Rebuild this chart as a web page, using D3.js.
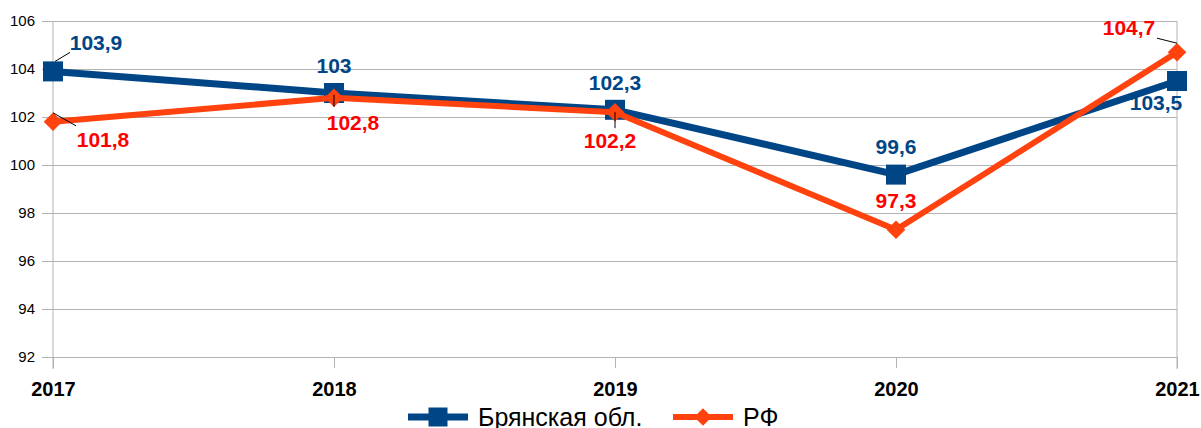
<!DOCTYPE html>
<html>
<head>
<meta charset="utf-8">
<script src="https://cdn.jsdelivr.net/npm/d3@7"></script>
<style>
  body { margin: 0; background: #fff; }
  svg { display: block; font-family: "Liberation Sans", Arial, sans-serif; }
</style>
</head>
<body>
<div id="chart"></div>
<script>
// Data
const years = ['2017', '2018', '2019', '2020', '2021'];
const bryansk = [103.9, 103, 102.3, 99.6, 103.5];
const rf = [101.8, 102.8, 102.2, 97.3, 104.7];
const yTicks = [92, 94, 96, 98, 100, 102, 104, 106];
const seriesNames = ['Брянская обл.', 'РФ'];

const width = 1201, height = 428;
const plotLeft = 53, plotRight = 1177, plotTop = 21, plotBottom = 357;

const svg = d3.select('#chart')
    .append('svg')
    .attr('width', width)
    .attr('height', height);

const x = d3.scalePoint().domain(years).range([plotLeft, plotRight]);
const y = d3.scaleLinear().domain([92, 106]).range([plotBottom, plotTop]);

const gridColor = '#b3b3b3';
const fmt = v => String(v).replace('.', ',');

// Horizontal gridlines
svg.append('g')
    .attr('transform', `translate(${plotLeft},0)`)
    .call(d3.axisLeft(y).tickValues(yTicks).tickSize(-(plotRight - plotLeft)).tickFormat(''))
    .call(g => g.select('.domain').remove())
    .call(g => g.selectAll('line').attr('stroke', gridColor));

// Y axis labels + ticks
svg.append('g')
    .attr('transform', `translate(${plotLeft},0)`)
    .call(d3.axisLeft(y).tickValues(yTicks).tickSize(11).tickPadding(7))
    .call(g => g.select('.domain').remove())
    .call(g => g.selectAll('line').attr('stroke', gridColor))
    .call(g => g.selectAll('text')
        .attr('fill', '#000')
        .style('font-size', '15px')
        .style('font-family', '"Liberation Sans", Arial, sans-serif'));

// X axis
svg.append('g')
    .attr('transform', `translate(0,${plotBottom})`)
    .call(d3.axisBottom(x).tickSize(11).tickPadding(14))
    .call(g => g.select('.domain').remove())
    .call(g => g.selectAll('line').attr('stroke', gridColor))
    .call(g => g.selectAll('text')
        .attr('fill', '#000')
        .style('font-size', '20px')
        .style('font-weight', 'bold')
        .style('font-family', '"Liberation Sans", Arial, sans-serif'));

// Left axis and right border
[plotLeft, plotRight].forEach(xx => {
    svg.append('line')
        .attr('x1', xx).attr('x2', xx)
        .attr('y1', plotTop).attr('y2', plotBottom + 12)
        .attr('stroke', gridColor);
});

const blue = '#004586', orange = '#ff420e', red = '#ff0000';

const line = d3.line()
    .x((d, i) => x(years[i]))
    .y(d => y(d));

const squareSym = d3.symbol().type(d3.symbolSquare).size(400);
const diamondSym = d3.symbol().type(d3.symbolDiamond2).size(200);

// Bryansk series
svg.append('path')
    .datum(bryansk)
    .attr('d', line)
    .attr('fill', 'none')
    .attr('stroke', blue)
    .attr('stroke-width', 7)
    .attr('stroke-linejoin', 'round');

svg.append('g').selectAll('path')
    .data(bryansk)
    .join('path')
    .attr('d', squareSym)
    .attr('transform', (d, i) => `translate(${x(years[i])},${y(d)})`)
    .attr('fill', blue);

// RF series
svg.append('path')
    .datum(rf)
    .attr('d', line)
    .attr('fill', 'none')
    .attr('stroke', orange)
    .attr('stroke-width', 6)
    .attr('stroke-linejoin', 'round');

svg.append('g').selectAll('path')
    .data(rf)
    .join('path')
    .attr('d', diamondSym)
    .attr('transform', (d, i) => `translate(${x(years[i])},${y(d)}) scale(1.05)`)
    .attr('fill', orange);

// Label placement (dx, dy of text center/baseline from point; leader line ends)
const blueLabelPos = [
    { dx: 43, dy: -21, lead: [[17, -19], [2, -10]] },
    { dx: 0, dy: -20 },
    { dx: 0, dy: -20 },
    { dx: 0, dy: -21 },
    { dx: -21, dy: 29 }
];
const redLabelPos = [
    { dx: 50, dy: 25, lead: [[0, -9], [23, 4]] },
    { dx: 19, dy: 32, lead: [[0, -3], [0, 9]] },
    { dx: -5, dy: 36, lead: [[0, 0], [0, 16]] },
    { dx: 0, dy: -22 },
    { dx: -48, dy: -17, lead: [[-20, -14], [0, -9]] }
];

function labels(values, pos, color) {
    const g = svg.append('g');
    values.forEach((v, i) => {
        const px = x(years[i]), py = y(v), p = pos[i];
        if (p.lead) {
            g.append('line')
                .attr('x1', px + p.lead[0][0]).attr('y1', py + p.lead[0][1])
                .attr('x2', px + p.lead[1][0]).attr('y2', py + p.lead[1][1])
                .attr('stroke', '#000')
                .attr('stroke-width', 1);
        }
        g.append('text')
            .attr('x', px + p.dx)
            .attr('y', py + p.dy)
            .attr('text-anchor', 'middle')
            .attr('fill', color)
            .style('font-size', '21px')
            .style('font-weight', 'bold')
            .text(fmt(v));
    });
}
labels(bryansk, blueLabelPos, blue);
labels(rf, redLabelPos, red);

// Legend
const legend = svg.append('g');
const legendItems = [
    { name: seriesNames[0], color: blue, sym: squareSym, sc: 0.95, w: 7, x0: 408 },
    { name: seriesNames[1], color: orange, sym: diamondSym, sc: 1.0, w: 6, x0: 673 }
];
legendItems.forEach(it => {
    legend.append('line')
        .attr('x1', it.x0).attr('x2', it.x0 + 60)
        .attr('y1', 417).attr('y2', 417)
        .attr('stroke', it.color)
        .attr('stroke-width', it.w);
    legend.append('path')
        .attr('d', it.sym)
        .attr('transform', `translate(${it.x0 + 30},417) scale(${it.sc})`)
        .attr('fill', it.color);
    legend.append('text')
        .attr('x', it.x0 + 70)
        .attr('y', 426)
        .attr('fill', '#000')
        .style('font-size', '25px')
        .text(it.name);
});
</script>
</body>
</html>
